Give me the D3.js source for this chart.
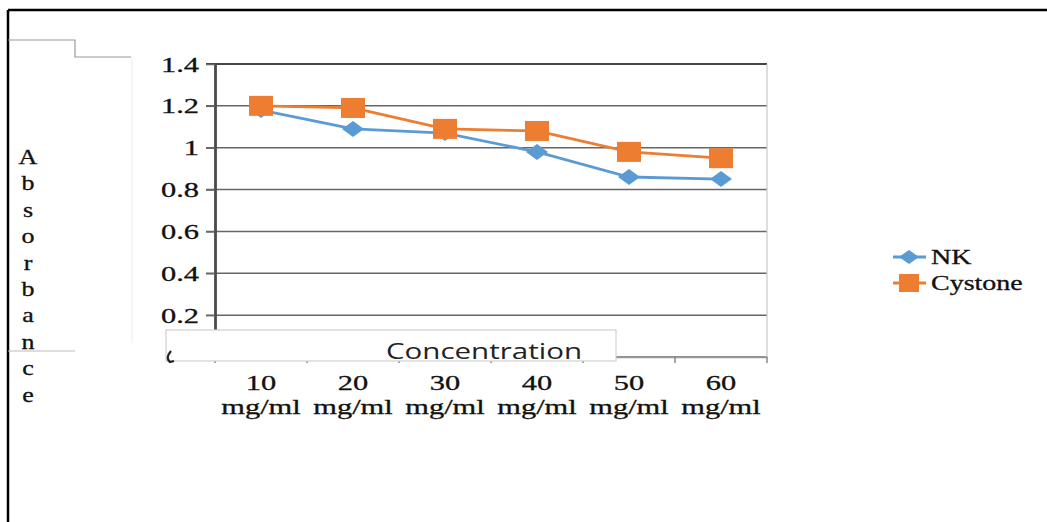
<!DOCTYPE html>
<html><head><meta charset="utf-8">
<script src="https://cdn.jsdelivr.net/npm/d3@7"></script>
<style>html,body{margin:0;padding:0;background:#fff;overflow:hidden}</style>
</head><body>
<svg id="c" width="1047" height="522"></svg>
<script>
const categories = ["10|mg/ml","20|mg/ml","30|mg/ml","40|mg/ml","50|mg/ml","60|mg/ml"];
const nkValues = [1.18, 1.09, 1.07, 0.98, 0.86, 0.85];
const cystoneValues = [1.20, 1.19, 1.09, 1.08, 0.98, 0.95];
const yTicks = [0, 0.2, 0.4, 0.6, 0.8, 1, 1.2, 1.4];
const seriesNames = ["NK", "Cystone"];
const yTitle = "Absorbance";
const xTitle = "Concentration";

const svg = d3.select("#c");
const blue = "#5B9BD5", orange = "#ED7D31";
const serif = "'Liberation Serif','Times New Roman',serif";
const SX = 1.45;

// outer frame
svg.append("line").attr("x1",8).attr("x2",1047).attr("y1",10).attr("y2",10).attr("stroke","#000").attr("stroke-width",2.5);
svg.append("line").attr("x1",8).attr("x2",8).attr("y1",10).attr("y2",522).attr("stroke","#000").attr("stroke-width",2.5);

// stray frame lines
const g0 = svg.append("g").attr("stroke","#9a9a9a").attr("fill","none").attr("stroke-width",1.2);
g0.append("path").attr("d","M8,40H75V57H131");
g0.append("path").attr("d","M132,57V343").attr("stroke","#f0f0f0");
g0.append("path").attr("d","M8,351H75").attr("stroke","#bdbdbd");

const L = 215, R = 767, T = 64, B = 357;
const x = d3.scaleBand().domain(categories).range([L, R]);
const y = d3.scaleLinear().domain([0, 1.4]).range([B, T]);

// gridlines
svg.append("g").selectAll("line").data(yTicks).join("line")
  .attr("x1", L-9).attr("x2", R).attr("y1", d=>y(d)).attr("y2", d=>y(d))
  .attr("stroke", d => d===1.4 ? "#444" : "#666").attr("stroke-width", d=>d===1.4?1.8:1.5);
// right border
svg.append("line").attr("x1",R).attr("x2",R).attr("y1",T).attr("y2",B).attr("stroke","#c8c8c8").attr("stroke-width",1.2);

// y axis
const yAxis = svg.append("g").attr("transform",`translate(${L},0)`)
  .call(d3.axisLeft(y).tickValues(yTicks).tickSize(9).tickSizeOuter(0).tickFormat(d=>String(d)));
yAxis.select(".domain").attr("stroke","#4a4a4a").attr("stroke-width",2.8);
yAxis.selectAll(".tick line").attr("stroke","#666").attr("stroke-width",1.5);
yAxis.selectAll(".tick text").each(function(d){
  const t = d3.select(this);
  if (d === 0) { t.remove(); return; }
  t.attr("x",null).attr("dy",null).attr("text-anchor","end")
   .attr("font-family",serif).attr("font-size",21).attr("fill","#111")
   .attr("stroke","#111").attr("stroke-width",0.3)
   .attr("transform",`translate(-16,7) scale(${SX},1)`);
});

// x axis ticks
const xAxis = svg.append("g").attr("transform",`translate(0,${B})`)
  .call(d3.axisBottom(x).tickSize(0).tickSizeOuter(0).tickFormat(""));
xAxis.select(".domain").attr("stroke","#9a9a9a").attr("stroke-width",1.5);
const bounds = categories.map(c=>x(c)).concat([R]);
xAxis.append("g").selectAll("line").data(bounds).join("line")
  .attr("x1",d=>d).attr("x2",d=>d).attr("y1",0).attr("y2",6).attr("stroke","#888").attr("stroke-width",1.5);

// category labels
const cl = svg.append("g");
categories.forEach(c=>{
  const [a,b] = c.split("|");
  const cx = x(c)+x.bandwidth()/2;
  cl.append("text").attr("transform",`translate(${cx},390) scale(${SX},1)`).attr("text-anchor","middle")
    .attr("font-family",serif).attr("font-size",21).attr("fill","#111").attr("stroke","#111").attr("stroke-width",0.3).text(a);
  cl.append("text").attr("transform",`translate(${cx},414) scale(${SX},1)`).attr("text-anchor","middle")
    .attr("font-family",serif).attr("font-size",21).attr("fill","#111").attr("stroke","#111").attr("stroke-width",0.3).text(b);
});

// lines & markers
const line = d3.line().x((d,i)=>x(categories[i])+x.bandwidth()/2).y(d=>y(d));
svg.append("path").datum(nkValues).attr("d",line).attr("fill","none").attr("stroke",blue).attr("stroke-width",2.8);
svg.append("path").datum(cystoneValues).attr("d",line).attr("fill","none").attr("stroke",orange).attr("stroke-width",2.8);
svg.append("g").selectAll("path").data(nkValues).join("path")
  .attr("d",(d,i)=>{const cx=x(categories[i])+x.bandwidth()/2, cy=y(d);return `M${cx-11},${cy}L${cx},${cy-8}L${cx+11},${cy}L${cx},${cy+8}Z`;})
  .attr("fill",blue);
svg.append("g").selectAll("rect").data(cystoneValues).join("rect")
  .attr("x",(d,i)=>x(categories[i])+x.bandwidth()/2-12).attr("y",d=>y(d)-10)
  .attr("width",24).attr("height",20).attr("fill",orange);

// overlay box with x title
svg.append("rect").attr("x",166).attr("y",330).attr("width",450).attr("height",31)
  .attr("fill","#fff").attr("stroke","#d0d0d0").attr("stroke-width",1.2);
// partial "0" peeking out from under the box
svg.append("path").attr("d","M171,351 Q165,358 170,362 L174,361").attr("fill","none").attr("stroke","#222").attr("stroke-width",2.2);
svg.append("text").attr("x",484).attr("y",359).attr("text-anchor","middle")
  .attr("font-family","'Open Sans','Liberation Sans',sans-serif").attr("font-size",22).attr("fill","#222")
  .attr("textLength",196).attr("lengthAdjust","spacingAndGlyphs").text(xTitle);

// y title
svg.append("g").selectAll("text").data(yTitle.split("")).join("text")
  .attr("transform",(d,i)=>`translate(28,${164+i*26.4}) scale(1.3,1)`).attr("text-anchor","middle")
  .attr("font-family",serif).attr("font-size",20).attr("fill","#111").attr("stroke","#111").attr("stroke-width",0.3).text(d=>d);

// legend
const lg = svg.append("g");
seriesNames.forEach((n,i)=>{
  const ly = 257 + i*26;
  const col = i===0?blue:orange;
  lg.append("line").attr("x1",893).attr("x2",926).attr("y1",ly).attr("y2",ly).attr("stroke",col).attr("stroke-width",2.8);
  if(i===0) lg.append("path").attr("d",`M${899},${ly}L${909},${ly-7}L${919},${ly}L${909},${ly+7}Z`).attr("fill",col);
  else lg.append("rect").attr("x",899).attr("y",ly-9).attr("width",20).attr("height",18).attr("fill",col);
  lg.append("text").attr("transform",`translate(931,${ly+7}) scale(1.4,1)`).attr("font-family",serif)
    .attr("font-size",20).attr("fill","#111").attr("stroke","#111").attr("stroke-width",0.3).text(n);
});
</script>
</body></html>
